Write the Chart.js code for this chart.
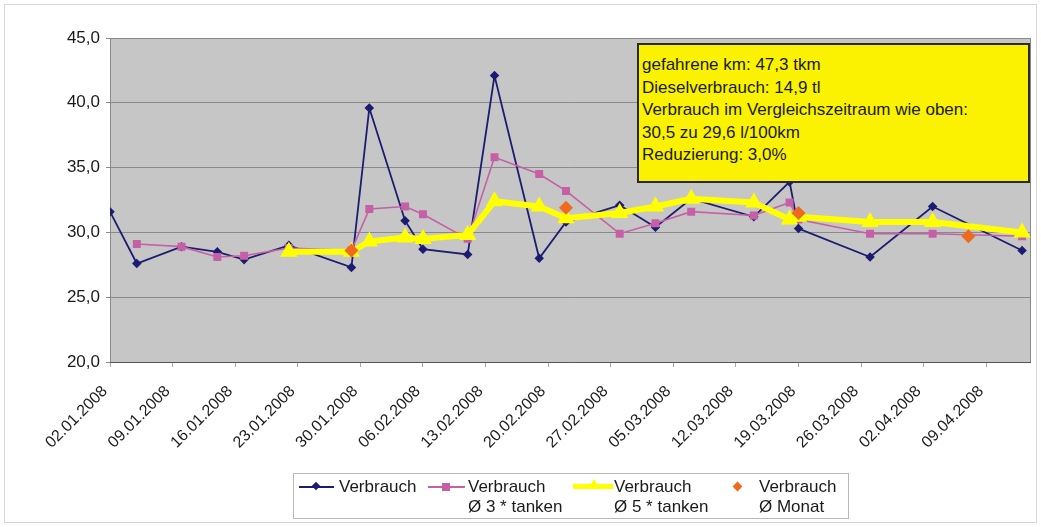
<!DOCTYPE html>
<html>
<head>
<meta charset="utf-8">
<script src="https://cdn.jsdelivr.net/npm/chart.js@4/dist/chart.umd.min.js"></script>
<style>
  html, body { margin: 0; padding: 0; background: #fff; }
  #wrap { position: relative; width: 1041px; height: 527px; font-family: "Liberation Sans", Arial, sans-serif; color: #1a1a1a; }
  #frame { position: absolute; left: 4px; top: 4px; width: 1031px; height: 517px; border: 1px solid #d6d6d6; pointer-events: none; }
  #note { position: absolute; left: 637px; top: 43px; width: 386px; height: 127px; background: #FAF200;
          border: 2px solid #2a2a2a; padding: 9px 0 0 3px; font-size: 17px; line-height: 22.6px; box-sizing: content-box; white-space: nowrap; }
  #legend { position: absolute; left: 293px; top: 473px; width: 554px; height: 44px; border: 1px solid #b8b8b8; background: #fff; }
  .lg-line { position: absolute; }
  .lg-text { position: absolute; font-size: 17px; line-height: 20px; white-space: nowrap; }
  .lg-mk { position: absolute; }
</style>
</head>
<body>
<div id="wrap">
  <canvas id="c" width="1041" height="527"></canvas>
  <div id="frame"></div>
  <div id="note"></div>
  <div id="legend"></div>
</div>
<script>
  // fuel-up dates as days after 02.01.2008
  var dayOffsets = [0, 3, 8, 12, 15, 20, 27, 29, 33, 35, 40, 43, 48, 51, 57, 61, 65, 72, 76, 77, 85, 92, 102];
  var verbrauch  = [31.6, 27.6, 28.9, 28.5, 27.9, 29.0, 27.3, 39.6, 30.9, 28.7, 28.3, 42.1, 28.0, 30.8, 32.1, 30.4, 32.6, 31.2, 33.9, 30.3, 28.1, 32.0, 28.6];
  var avg3Tanken = [null, 29.1, 28.9, 28.1, 28.2, 28.8, 28.6, 31.8, 32.0, 31.4, 29.5, 35.8, 34.5, 33.2, 29.9, 30.7, 31.6, 31.3, 32.3, 31.0, 29.9, 29.9, 29.7];
  var avg5Tanken = [null, null, null, null, null, 28.5, 28.5, 29.3, 29.6, 29.5, 29.8, 32.4, 32.0, 31.1, 31.5, 32.0, 32.6, 32.3, 31.0, 31.2, 30.8, 30.8, 30.0];
  var monatDays  = [27, 51, 77, 96];
  var monatAvg   = [28.6, 31.9, 31.5, 29.7];

  var tickDays   = [0, 7, 14, 21, 28, 35, 42, 49, 56, 63, 70, 77, 84, 91, 98];
  var tickLabels = ["02.01.2008", "09.01.2008", "16.01.2008", "23.01.2008", "30.01.2008", "06.02.2008", "13.02.2008",
                    "20.02.2008", "27.02.2008", "05.03.2008", "12.03.2008", "19.03.2008", "26.03.2008", "02.04.2008", "09.04.2008"];
  var yTicks     = [20, 25, 30, 35, 40, 45];

  var noteLines = ["gefahrene km: 47,3 tkm", "Dieselverbrauch: 14,9 tl", "Verbrauch im Vergleichszeitraum wie oben:",
                   "30,5 zu 29,6 l/100km", "Reduzierung: 3,0%"];

  var C_BLUE = "#1c1c70", C_PINK = "#C660A6", C_YEL = "#FFFF00", C_ORA = "#F06A1E";
  var FONT = "'Liberation Sans', Arial, sans-serif";

  function pts(ys, xs) {
    var out = [];
    ys.forEach(function (v, i) { if (v !== null) out.push({ x: xs[i], y: v }); });
    return out;
  }

  var plotBg = {
    id: "plotBg",
    beforeDraw: function (chart) {
      var ctx = chart.ctx, a = chart.chartArea;
      ctx.save();
      ctx.fillStyle = "#fff";
      ctx.fillRect(0, 0, chart.width, chart.height);
      ctx.fillStyle = "#C6C6C6";
      ctx.fillRect(a.left, a.top, a.right - a.left, a.bottom - a.top);
      ctx.restore();
    },
    beforeDatasetsDraw: function (chart) {
      var ctx = chart.ctx, a = chart.chartArea;
      ctx.save();
      ctx.strokeStyle = "#8a8a8a";
      ctx.lineWidth = 1;
      ctx.strokeRect(a.left + 0.5, a.top + 0.5, a.right - a.left - 1, a.bottom - a.top);
      ctx.strokeStyle = "#555";
      ctx.beginPath();
      ctx.moveTo(a.left, a.bottom + 0.5);
      ctx.lineTo(a.right, a.bottom + 0.5);
      ctx.stroke();
      ctx.restore();
    }
  };

  new Chart(document.getElementById("c"), {
    type: "line",
    data: {
      datasets: [
        { label: "Verbrauch Ø Monat", data: pts(monatAvg, monatDays), showLine: false, order: 0,
          pointStyle: "rectRot", pointRadius: 7, backgroundColor: C_ORA, borderColor: C_ORA, borderWidth: 0 },
        { label: "Verbrauch Ø 5 * tanken", data: pts(avg5Tanken, dayOffsets), order: 1,
          borderColor: C_YEL, backgroundColor: C_YEL, borderWidth: 6, pointStyle: "triangle", pointRadius: 4, borderJoinStyle: "round" },
        { label: "Verbrauch Ø 3 * tanken", data: pts(avg3Tanken, dayOffsets), order: 2,
          borderColor: C_PINK, backgroundColor: C_PINK, borderWidth: 1.6, pointStyle: "rect", pointRadius: 4.5 },
        { label: "Verbrauch", data: pts(verbrauch, dayOffsets), order: 3,
          borderColor: C_BLUE, backgroundColor: C_BLUE, borderWidth: 1.8, pointStyle: "rectRot", pointRadius: 3.5 }
      ]
    },
    options: {
      responsive: false,
      animation: false,
      layout: { padding: { left: 0, top: 38, right: 9, bottom: 0 } },
      plugins: { legend: { display: false }, tooltip: { enabled: false } },
      elements: { line: { tension: 0 }, point: { borderWidth: 0 } },
      scales: {
        x: {
          type: "linear", min: 0, max: 103,
          afterBuildTicks: function (axis) { axis.ticks = tickDays.map(function (d) { return { value: d }; }); },
          afterFit: function (s) { s.height = 165; },
          grid: { display: true, drawOnChartArea: false, drawTicks: true, tickLength: 5, color: "#aaa" },
          border: { display: false },
          ticks: {
            autoSkip: false, minRotation: 45, maxRotation: 45, padding: 15, labelOffset: -5,
            color: "#1a1a1a", font: { family: FONT, size: 16 },
            callback: function (v) { var i = tickDays.indexOf(v); return i >= 0 ? tickLabels[i] : ""; }
          }
        },
        y: {
          min: 20, max: 45,
          afterBuildTicks: function (axis) { axis.ticks = yTicks.map(function (v) { return { value: v }; }); },
          afterFit: function (s) { s.width = 110; },
          grid: { color: "#8a8a8a", lineWidth: 1, drawTicks: true, tickLength: 4 },
          border: { display: false },
          ticks: {
            padding: 6, color: "#1a1a1a", font: { family: FONT, size: 17 },
            callback: function (v) { return v.toFixed(1).replace(".", ","); }
          }
        }
      }
    },
    plugins: [plotBg]
  });

  document.getElementById("note").innerHTML = noteLines.map(function (t) { return "<div>" + t + "</div>"; }).join("");

  // legend with two-line labels
  var lg = document.getElementById("legend");
  function add(html) { lg.insertAdjacentHTML("beforeend", html); }
  // Verbrauch
  add('<div class="lg-line" style="left:5px;top:12px;width:35px;height:2px;background:' + C_BLUE + ';"></div>');
  add('<div class="lg-mk" style="left:19px;top:9px;width:6px;height:6px;transform:rotate(45deg);background:' + C_BLUE + ';"></div>');
  add('<div class="lg-text" style="left:45px;top:3px;">Verbrauch</div>');
  // Ø 3 * tanken
  add('<div class="lg-line" style="left:134px;top:12px;width:37px;height:2px;background:' + C_PINK + ';"></div>');
  add('<div class="lg-mk" style="left:148px;top:9px;width:8px;height:8px;background:' + C_PINK + ';"></div>');
  add('<div class="lg-text" style="left:174px;top:3px;">Verbrauch<br>Ø 3 * tanken</div>');
  // Ø 5 * tanken
  add('<div class="lg-line" style="left:279px;top:10px;width:40px;height:5px;background:' + C_YEL + ';"></div>');
  add('<div class="lg-mk" style="left:295px;top:5px;width:0;height:0;border-left:5px solid transparent;border-right:5px solid transparent;border-bottom:8px solid ' + C_YEL + ';"></div>');
  add('<div class="lg-text" style="left:320px;top:3px;">Verbrauch<br>Ø 5 * tanken</div>');
  // Ø Monat
  add('<div class="lg-mk" style="left:440px;top:9px;width:7px;height:7px;transform:rotate(45deg);background:' + C_ORA + ';"></div>');
  add('<div class="lg-text" style="left:465px;top:3px;">Verbrauch<br>Ø Monat</div>');
</script>
</body>
</html>
